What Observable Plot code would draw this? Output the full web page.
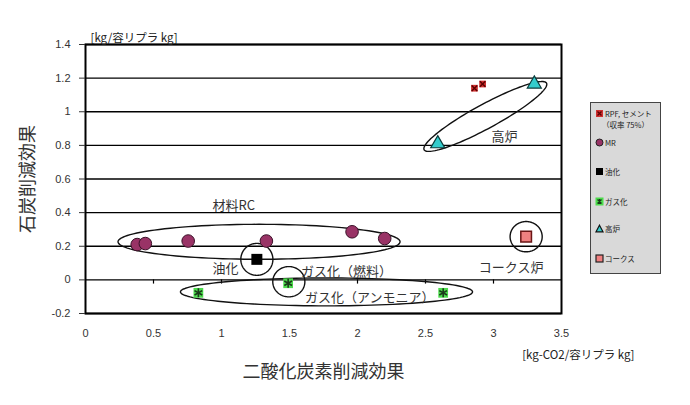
<!DOCTYPE html>
<html><head><meta charset="utf-8">
<script src="https://cdn.jsdelivr.net/npm/d3@7"></script>
<script src="https://cdn.jsdelivr.net/npm/@observablehq/plot@0.6"></script>
<style>
body{margin:0;background:#fff;font-family:"Liberation Sans","Noto Sans CJK JP",sans-serif;}
#wrap{position:relative;width:690px;height:405px;}
#legend{position:absolute;left:590px;top:102px;width:71px;height:172px;background:#d9d9d9;border:1px solid #444;box-sizing:border-box;font-family:"Noto Sans CJK JP","Liberation Sans",sans-serif;font-size:7.5px;color:#222;}
#legend .it{position:absolute;left:4px;display:flex;align-items:center;white-space:nowrap;}
#legend svg{margin-right:1px;}
</style></head><body>
<div id="wrap"><div id="legend"></div></div>
<script>
// ---- data ----
const rpfX = [2.86, 2.92];
const rpfY = [1.14, 1.165];
const mrX = [0.38, 0.44, 0.755, 1.33, 1.96, 2.20];
const mrY = [0.21, 0.216, 0.231, 0.231, 0.286, 0.246];
const oilX = [1.26];
const oilY = [0.122];
const gasX = [0.83, 1.49, 2.63];
const gasY = [-0.077, -0.02, -0.077];
const bfX = [2.59, 3.30];
const bfY = [0.81, 1.165];
const cokeX = [3.24];
const cokeY = [0.257];
const xTicks = [0, 0.5, 1, 1.5, 2, 2.5, 3, 3.5];
const yTicks = [-0.2, 0, 0.2, 0.4, 0.6, 0.8, 1, 1.2, 1.4];
// annotation ellipses: centre and two conjugate half-axis vectors (data units)
const ellNames = ["材料RC", "油化", "ガス化(燃料)", "ガス化(アンモニア)", "高炉", "コークス炉"];
const ellCx = [1.276, 1.26, 1.495, 1.772, 2.94, 3.24];
const ellCy = [0.2265, 0.122, -0.011, -0.0715, 0.972, 0.257];
const ellAx = [1.037, 0.118, 0.118, 1.074, 0.45, 0.118];
const ellAy = [0, 0, 0, 0, 0.198, 0];
const ellBx = [0, 0, 0, 0, 0.0426, 0];
const ellBy = [0.104, 0.095, 0.09, 0.083, -0.063, 0.09];
const labelText = ["材料RC", "油化", "ガス化（燃料）", "ガス化（アンモニア）", "高炉", "コークス炉"];
const labelX = [1.09, 1.03, 1.92, 2.09, 3.08, 3.13];
const labelY = [0.44, 0.063, 0.05, -0.105, 0.85, 0.07];
const legendLabels = ["RPF, セメント", "（収率 75%）", "MR", "油化", "ガス化", "高炉", "コークス"];

// ---- build ----
const pts = (xs, ys) => xs.map((x, i) => ({x, y: ys[i]}));
const ellPts = [];
ellNames.forEach((n, k) => {
  for (let i = 0; i <= 120; i++) {
    const t = i / 120 * 2 * Math.PI;
    ellPts.push({n, x: ellCx[k] + ellAx[k]*Math.cos(t) + ellBx[k]*Math.sin(t),
                    y: ellCy[k] + ellAy[k]*Math.cos(t) + ellBy[k]*Math.sin(t)});
  }
});
const labels = labelText.map((t, i) => ({t, x: labelX[i], y: labelY[i]}));
const fmt = d => String(Math.round(d * 10) / 10);
const jp = '"Noto Sans CJK JP","Liberation Sans",sans-serif';

const chart = Plot.plot({
  width: 690, height: 405,
  marginLeft: 85, marginRight: 129, marginTop: 44, marginBottom: 92,
  style: {fontFamily: '"Liberation Sans","Noto Sans CJK JP",sans-serif', background: "#fff"},
  x: {domain: [0, 3.5]},
  y: {domain: [-0.2, 1.4]},
  marks: [
    Plot.ruleY(yTicks, {stroke: "#000", strokeWidth: 1.3}),
    Plot.frame({stroke: "#000", strokeWidth: 2}),
    Plot.axisY({ticks: yTicks, tickSize: 6, tickPadding: 9, tickFormat: fmt, fontSize: 11, color: "#333", label: null}),
    Plot.axisX({ticks: xTicks, tickSize: 0, tickPadding: 16, tickFormat: fmt, fontSize: 11, color: "#333", label: null}),
    Plot.ruleX(xTicks.slice(1, -1), {y1: 0, y2: -0.025, stroke: "#000", strokeWidth: 1.2}),
    Plot.line(ellPts, {x: "x", y: "y", z: "n", stroke: "#111", strokeWidth: 1.4}),
    Plot.dot(pts(mrX, mrY), {x: "x", y: "y", r: 6.3, fill: "#993366", stroke: "#3a1228", strokeWidth: 1}),
    Plot.dot(pts(oilX, oilY), {x: "x", y: "y", symbol: "square", r: 6.2, fill: "#000"}),
    Plot.dot(pts(cokeX, cokeY), {x: "x", y: "y", symbol: "square", r: 6, fill: "#f08080", stroke: "#6a1515", strokeWidth: 1.5}),
    Plot.dot(pts(bfX, bfY), {x: "x", y: "y", symbol: "triangle", r: 5.2, fill: "#33cccc", stroke: "#0b3b3b", strokeWidth: 1.2}),
    Plot.dot(pts(rpfX, rpfY), {x: "x", y: "y", symbol: "square", r: 3.8, fill: "#d03030"}),
    Plot.dot(pts(rpfX, rpfY), {x: "x", y: "y", symbol: "times", r: 2.6, stroke: "#5a0000", strokeWidth: 1.4}),
    Plot.dot(pts(gasX, gasY), {x: "x", y: "y", symbol: "square", r: 5.5, fill: "#4cdc4c"}),
    Plot.dot(pts(gasX, gasY), {x: "x", y: "y", symbol: "asterisk", r: 4.2, stroke: "#1a3a1a", strokeWidth: 1.6}),
    Plot.text(labels, {x: "x", y: "y", text: "t", fontSize: 13, fill: "#333", fontFamily: jp}),
    Plot.text(["[kg/容リプラ kg]"], {frameAnchor: "top-left", dx: 5, dy: -11, textAnchor: "start", fontSize: 11.5, fill: "#222", fontFamily: jp}),
    Plot.text(["[kg-CO2/容リプラ kg]"], {frameAnchor: "bottom-right", dx: 73, dy: 45, textAnchor: "end", fontSize: 11.5, fill: "#222", fontFamily: jp}),
    Plot.text(["二酸化炭素削減効果"], {frameAnchor: "bottom", dy: 64, fontSize: 18, fill: "#333", fontFamily: jp}),
    Plot.text(["石炭削減効果"], {frameAnchor: "left", dx: -57, rotate: -90, textAnchor: "middle", fontSize: 18, fill: "#333", fontFamily: jp})
  ]
});
document.getElementById("wrap").prepend(chart);

// ---- legend ----
const lg = document.getElementById("legend");
const sym = {
  rpf: '<rect x="1" y="1" width="7" height="7" fill="#d03030"/><path d="M2.5 2.5L6.5 6.5M6.5 2.5L2.5 6.5" stroke="#5a0000" stroke-width="1.3"/>',
  mr: '<circle cx="4.5" cy="4.5" r="3.5" fill="#993366" stroke="#222" stroke-width="1"/>',
  oil: '<rect x="1" y="1" width="7" height="7" fill="#000"/>',
  gas: '<rect x="0.5" y="0.5" width="8" height="8" fill="#4cdc4c"/><path d="M2.5 2.5L6.5 6.5M6.5 2.5L2.5 6.5M4.5 2V7" stroke="#1a3a1a" stroke-width="1.3"/>',
  bf: '<path d="M4.5 1.2L8 7.8H1Z" fill="#33cccc" stroke="#111" stroke-width="1.2"/>',
  coke: '<rect x="1" y="1" width="7" height="7" fill="#f08080" stroke="#222" stroke-width="1.2"/>'
};
const items = [
  {s: "rpf", t: legendLabels[0], y: 5},
  {s: null, t: legendLabels[1], y: 16, x: 11},
  {s: "mr", t: legendLabels[2], y: 34},
  {s: "oil", t: legendLabels[3], y: 63},
  {s: "gas", t: legendLabels[4], y: 93},
  {s: "bf", t: legendLabels[5], y: 120},
  {s: "coke", t: legendLabels[6], y: 150}
];
items.forEach(it => {
  const d = document.createElement("div");
  d.className = "it";
  d.style.top = it.y + "px";
  if (it.x) d.style.left = it.x + "px";
  d.innerHTML = (it.s ? '<svg width="9" height="9">' + sym[it.s] + '</svg>' : '') + '<span>' + it.t + '</span>';
  lg.appendChild(d);
});
</script>
</body></html>
